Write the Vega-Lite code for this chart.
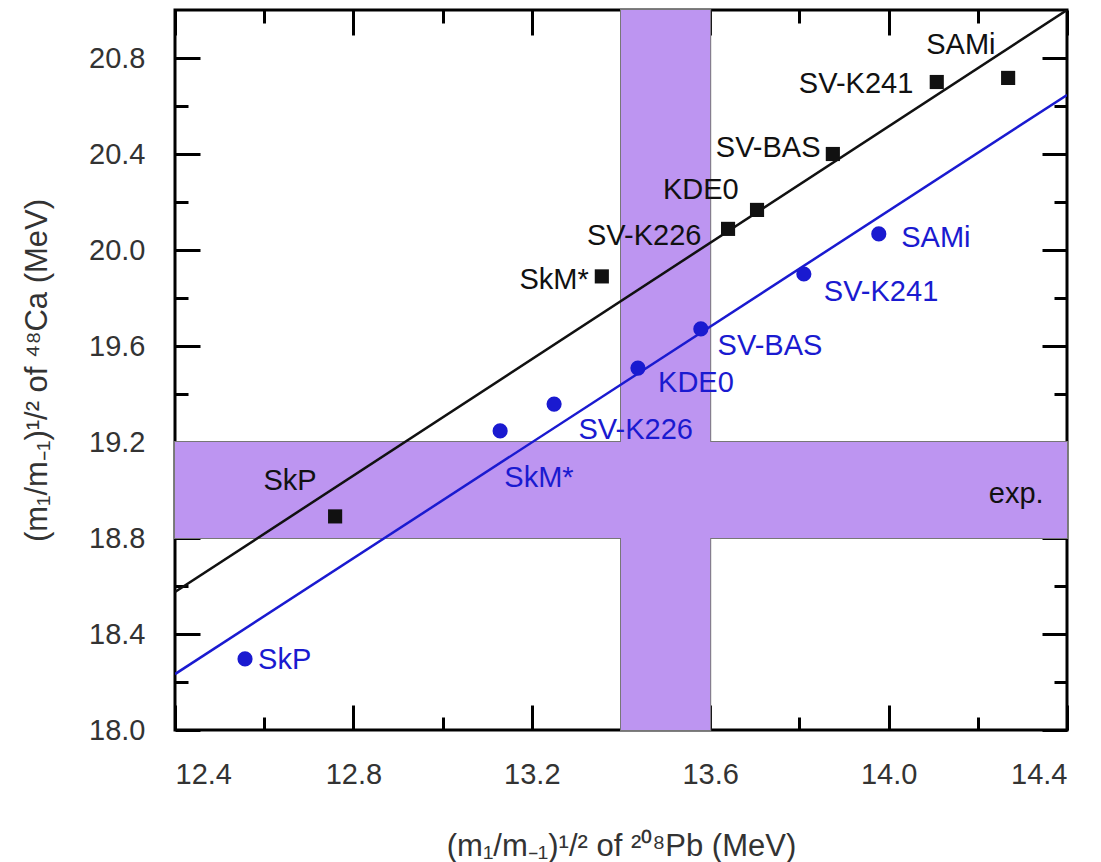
{
  "$schema": "https://vega.github.io/schema/vega-lite/v6.json",
  "width": 892,
  "height": 720,
  "autosize": {"type": "none"},
  "padding": {"left": 175, "top": 10, "right": 34, "bottom": 132},
  "background": "white",
  "config": {
    "view": {"stroke": "black", "strokeWidth": 3},
    "font": "Liberation Sans",
    "axis": {
      "domain": false,
      "grid": false,
      "ticks": true,
      "tickColor": "black",
      "tickWidth": 3,
      "tickOpacity": 1,
      "zindex": 1,
      "labelFont": "Liberation Sans",
      "labelFontSize": 29,
      "labelColor": "#333333",
      "titleFont": "Liberation Sans",
      "titleFontSize": 31,
      "titleFontWeight": "normal",
      "titleColor": "#333333"
    }
  },
  "datasets": {
    "bands": [
      {"x1": 13.4, "x2": 13.6, "y1": 18.0, "y2": 21.0},
      {"x1": 12.4, "x2": 14.4, "y1": 18.8, "y2": 19.2}
    ],
    "fits": [
      {"series": "black", "x": 12.4, "y": 18.575},
      {"series": "black", "x": 14.4, "y": 21.0},
      {"series": "blue", "x": 12.4, "y": 18.233},
      {"series": "blue", "x": 14.4, "y": 20.646}
    ],
    "points": [
      {"series": "black", "model": "SkP", "x": 12.759, "y": 18.89},
      {"series": "black", "model": "SkM*", "x": 13.357, "y": 19.89},
      {"series": "black", "model": "SV-K226", "x": 13.64, "y": 20.088},
      {"series": "black", "model": "KDE0", "x": 13.705, "y": 20.167},
      {"series": "black", "model": "SV-BAS", "x": 13.875, "y": 20.4},
      {"series": "black", "model": "SV-K241", "x": 14.108, "y": 20.7},
      {"series": "black", "model": "SAMi", "x": 14.268, "y": 20.717},
      {"series": "blue", "model": "SkP", "x": 12.557, "y": 18.296},
      {"series": "blue", "model": "SkM*", "x": 13.129, "y": 19.246},
      {"series": "blue", "model": "SV-K226", "x": 13.25, "y": 19.358},
      {"series": "blue", "model": "KDE0", "x": 13.438, "y": 19.508},
      {"series": "blue", "model": "SV-BAS", "x": 13.579, "y": 19.671},
      {"series": "blue", "model": "SV-K241", "x": 13.81, "y": 19.9},
      {"series": "blue", "model": "SAMi", "x": 13.978, "y": 20.067}
    ],
    "labels": [
      {"series": "black", "label": "SkP", "x": 12.658, "y": 19.0375},
      {"series": "black", "label": "SkM*", "x": 13.25, "y": 19.875},
      {"series": "black", "label": "SV-K226", "x": 13.452, "y": 20.058},
      {"series": "black", "label": "KDE0", "x": 13.579, "y": 20.25},
      {"series": "black", "label": "SV-BAS", "x": 13.73, "y": 20.425},
      {"series": "black", "label": "SV-K241", "x": 13.927, "y": 20.692},
      {"series": "black", "label": "SAMi", "x": 14.162, "y": 20.854},
      {"series": "black", "label": "exp.", "x": 14.286, "y": 18.983},
      {"series": "blue", "label": "SkP", "x": 12.646, "y": 18.292},
      {"series": "blue", "label": "SkM*", "x": 13.216, "y": 19.05},
      {"series": "blue", "label": "SV-K226", "x": 13.433, "y": 19.25},
      {"series": "blue", "label": "KDE0", "x": 13.568, "y": 19.446},
      {"series": "blue", "label": "SV-BAS", "x": 13.734, "y": 19.6},
      {"series": "blue", "label": "SV-K241", "x": 13.983, "y": 19.825},
      {"series": "blue", "label": "SAMi", "x": 14.106, "y": 20.05}
    ]
  },
  "layer": [
    {
      "data": {"name": "bands"},
      "mark": {"type": "rect", "fill": "#bd95f1", "stroke": "#777777", "strokeWidth": 2},
      "encoding": {
        "x": {"field": "x1", "type": "quantitative",
              "scale": {"domain": [12.4, 14.4], "nice": false, "zero": false},
              "axis": {"orient": "bottom", "values": [12.4, 12.8, 13.2, 13.6, 14.0, 14.4], "format": ".1f",
                       "offset": -25, "tickSize": 25, "labelPadding": 30, "title": "(m₁/m₋₁)¹/²  of ²⁰⁸Pb (MeV)", "titlePadding": 42}},
        "x2": {"field": "x2"},
        "y": {"field": "y1", "type": "quantitative",
              "scale": {"domain": [18, 21], "nice": false, "zero": false},
              "axis": {"orient": "left", "values": [18.0, 18.4, 18.8, 19.2, 19.6, 20.0, 20.4, 20.8], "format": ".1f",
                       "offset": -25, "tickSize": 25, "labelPadding": 30, "title": "(m₁/m₋₁)¹/² of ⁴⁸Ca (MeV)", "titlePadding": 35}},
        "y2": {"field": "y2"}
      }
    },
    {
      "data": {"name": "bands"},
      "mark": {"type": "rect", "fill": "#bd95f1", "strokeWidth": 0},
      "encoding": {
        "x": {"field": "x1", "type": "quantitative",
              "axis": {"orient": "top", "values": [12.4, 12.8, 13.2, 13.6, 14.0, 14.4], "offset": -25, "tickSize": 25, "labels": false, "title": null}},
        "x2": {"field": "x2"},
        "y": {"field": "y1", "type": "quantitative",
              "axis": {"orient": "right", "values": [18.0, 18.4, 18.8, 19.2, 19.6, 20.0, 20.4, 20.8], "offset": -25, "tickSize": 25, "labels": false, "title": null}},
        "y2": {"field": "y2"}
      }
    },
    {
      "data": {"name": "fits"},
      "mark": {"type": "line", "strokeWidth": 2.5, "clip": true},
      "encoding": {
        "x": {"field": "x", "type": "quantitative",
              "axis": {"orient": "bottom", "values": [12.6, 13.0, 13.4, 13.8, 14.2], "offset": -13, "tickSize": 13, "labels": false, "title": null}},
        "y": {"field": "y", "type": "quantitative",
              "axis": {"orient": "left", "values": [18.2, 18.6, 19.0, 19.4, 19.8, 20.2, 20.6], "offset": -13, "tickSize": 13, "labels": false, "title": null}},
        "detail": {"field": "series"},
        "color": {"field": "series", "type": "nominal", "scale": {"domain": ["black", "blue"], "range": ["#111111", "#1a1ad0"]}, "legend": null}
      }
    },
    {
      "data": {"name": "points"},
      "mark": {"type": "point", "filled": true, "opacity": 1},
      "encoding": {
        "x": {"field": "x", "type": "quantitative",
              "axis": {"orient": "top", "values": [12.6, 13.0, 13.4, 13.8, 14.2], "offset": -13, "tickSize": 13, "labels": false, "title": null}},
        "y": {"field": "y", "type": "quantitative",
              "axis": {"orient": "right", "values": [18.2, 18.6, 19.0, 19.4, 19.8, 20.2, 20.6], "offset": -13, "tickSize": 13, "labels": false, "title": null}},
        "shape": {"field": "series", "type": "nominal", "scale": {"domain": ["black", "blue"], "range": ["square", "circle"]}, "legend": null},
        "size": {"field": "series", "type": "nominal", "scale": {"domain": ["black", "blue"], "range": [200, 230]}, "legend": null},
        "color": {"field": "series", "type": "nominal", "scale": {"domain": ["black", "blue"], "range": ["#000000", "#0000ee"]}, "legend": null}
      }
    },
    {
      "data": {"name": "labels"},
      "mark": {"type": "text", "fontSize": 29, "font": "Liberation Sans", "align": "center", "baseline": "middle"},
      "encoding": {
        "x": {"field": "x", "type": "quantitative", "axis": null},
        "y": {"field": "y", "type": "quantitative", "axis": null},
        "text": {"field": "label"},
        "color": {"field": "series", "type": "nominal", "scale": {"domain": ["black", "blue"], "range": ["#222222", "#2424c8"]}, "legend": null}
      }
    }
  ],
  "resolve": {"axis": {"x": "independent", "y": "independent"}}
}
